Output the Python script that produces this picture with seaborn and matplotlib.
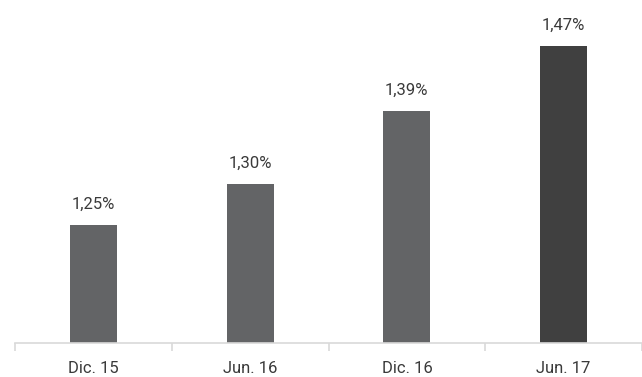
import matplotlib
matplotlib.use("Agg")
import matplotlib.pyplot as plt
import seaborn as sns
import pandas as pd

categories = ["Dic. 15", "Jun. 16", "Dic. 16", "Jun. 17"]
values = [1.25, 1.30, 1.39, 1.47]
labels = ["1,25%", "1,30%", "1,39%", "1,47%"]
colors = ["#636466", "#636466", "#636466", "#404040"]

sns.set_style("white")
plt.rcParams["font.family"] = ["Roboto", "DejaVu Sans"]

df = pd.DataFrame({"periodo": categories, "valor": values})

fig = plt.figure(figsize=(6.42, 3.77), dpi=100)
ax = fig.add_axes([15 / 642, 34 / 377, 627 / 642, 343 / 377])

sns.barplot(data=df, x="periodo", y="valor", hue="periodo", palette=colors,
            width=0.3, legend=False, ax=ax, saturation=1, linewidth=0)

# etiquetas de valor sobre cada barra
for i, (v, lab) in enumerate(zip(values, labels)):
    ax.text(i, v + 0.016, lab, ha="center", va="bottom", fontsize=12,
            color="#3a3a3a")

ax.set_ylim(1.105, 1.526)
ax.set_xlim(-0.5, 3.5)
ax.set_xlabel("")
ax.set_ylabel("")
ax.set_yticks([])
for s in ["top", "right", "left"]:
    ax.spines[s].set_visible(False)
ax.spines["bottom"].set_color("#d9d9d9")
ax.spines["bottom"].set_linewidth(1.2)

ax.set_xticks([0, 1, 2, 3])
ax.set_xticklabels(categories, fontsize=12, color="#3a3a3a")
ax.tick_params(axis="x", length=0, pad=13)
ax.set_xticks([-0.5, 0.5, 1.5, 2.5, 3.5], minor=True)
ax.tick_params(axis="x", which="minor", bottom=True, length=6,
               color="#d9d9d9", width=1.2, direction="out")

fig.savefig("out.png", dpi=100)
